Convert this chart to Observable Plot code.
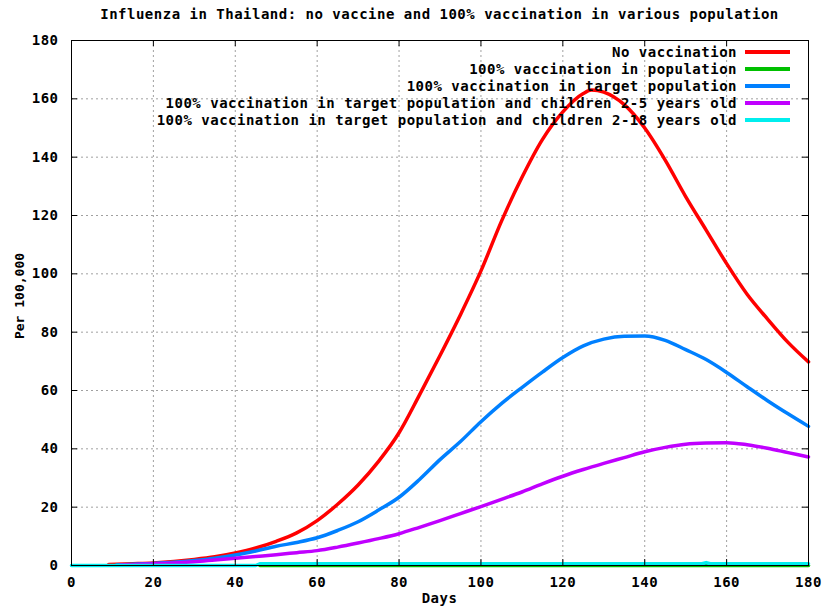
<!DOCTYPE html>
<html>
<head>
<meta charset="utf-8">
<script src="https://cdn.jsdelivr.net/npm/d3@7"></script>
<script src="https://cdn.jsdelivr.net/npm/@observablehq/plot@0.6"></script>
<style>
  body { margin: 0; background: #fff; }
  #wrap { position: relative; width: 827px; height: 612px; font-family: "DejaVu Sans Mono", "Liberation Mono", monospace; font-weight: bold; color: #000; }
  #title { height: 30px; line-height: 28px; padding-left: 71px; padding-right: 19px; text-align: center; font-size: 14px; letter-spacing: 0.5px; box-sizing: border-box; width: 827px; white-space: nowrap; }
  #legend { position: absolute; right: 37px; top: 43px; font-size: 14px; letter-spacing: 0.5px; }
  .row { display: flex; justify-content: flex-end; align-items: center; height: 17px; white-space: nowrap; }
  .swatch { display: inline-block; width: 45px; height: 4px; margin-left: 8px; }
  #xlabel { position: absolute; left: 71px; width: 737px; top: 590px; text-align: center; font-size: 14px; letter-spacing: 0.5px; }
  #ylabel { position: absolute; left: 19px; top: 296px; font-size: 13px; white-space: nowrap; transform: translate(-50%, -50%) rotate(-90deg); }
  svg { display: block; }
</style>
</head>
<body>
<div id="wrap">
  <div id="title">Influenza in Thailand: no vaccine and 100% vaccination in various population</div>
  <div id="chart"></div>
  <div id="legend"></div>
  <div id="xlabel">Days</div>
  <div id="ylabel">Per 100,000</div>
</div>
<script>
// ---- data ----
const xTicks = [0, 20, 40, 60, 80, 100, 120, 140, 160, 180];
const yTicks = [0, 20, 40, 60, 80, 100, 120, 140, 160, 180];

const seriesNames = [
  "No vaccination",
  "100% vaccination in population",
  "100% vaccination in target population",
  "100% vaccination in target population and children 2-5 years old",
  "100% vaccination in target population and children 2-18 years old"
];
const seriesColors = ["#ff0000", "#00c000", "#0080ff", "#c000ff", "#00eeee"];

const noVacDays = [9, 15, 20, 25, 30, 35, 40, 45, 50, 55, 60, 65, 70, 75, 80, 85, 90, 95, 100, 105, 110, 115, 120, 125, 127, 130, 135, 140, 145, 150, 155, 160, 165, 170, 175, 180];
const noVacVals = [0.3, 0.6, 0.9, 1.4, 2.1, 3.0, 4.3, 6.0, 8.3, 11.2, 15.4, 21, 27.6, 35.7, 45.5, 58.5, 72, 86, 101, 118, 133, 146, 155.5, 161.8, 163, 162.3, 158, 150, 139, 126.5, 115, 103.5, 93, 84.5, 76.5, 69.8];

const popDays = [46, 180];
const popVals = [0, 0];

const targetDays = [11, 15, 20, 25, 30, 35, 40, 45, 50, 55, 60, 65, 70, 75, 80, 85, 90, 95, 100, 105, 110, 115, 120, 125, 130, 135, 140, 145, 150, 155, 160, 165, 170, 175, 180];
const targetVals = [0.2, 0.4, 0.7, 1.1, 1.7, 2.5, 3.6, 5.0, 6.6, 7.9, 9.5, 12.0, 15.0, 19.0, 23.4, 29.5, 36.3, 42.5, 49.3, 55.5, 61.0, 66.3, 71.3, 75.3, 77.6, 78.6, 78.7, 77.2, 74.0, 70.6, 66.2, 61.3, 56.5, 52.0, 47.7];

const child5Days = [12, 15, 20, 25, 30, 35, 40, 45, 50, 55, 60, 65, 70, 75, 80, 85, 90, 95, 100, 105, 110, 115, 120, 125, 130, 135, 140, 145, 150, 155, 160, 165, 170, 175, 180];
const child5Vals = [0.2, 0.3, 0.6, 0.9, 1.3, 1.9, 2.5, 3.1, 3.7, 4.4, 5.1, 6.3, 7.7, 9.2, 10.9, 13.1, 15.4, 17.8, 20.2, 22.7, 25.2, 28.0, 30.6, 32.9, 35.0, 37.0, 39.0, 40.5, 41.6, 42.0, 42.1, 41.4, 40.2, 38.7, 37.2];

const child18Days = [0, 45, 46, 154, 155, 156, 180];
const child18Vals = [0, 0, 0.6, 0.6, 1.0, 0.6, 0.6];

// ---- build table ----
const seriesDays = [noVacDays, popDays, targetDays, child5Days, child18Days];
const seriesVals = [noVacVals, popVals, targetVals, child5Vals, child18Vals];
const table = [];
seriesNames.forEach((name, i) => {
  seriesDays[i].forEach((d, j) => table.push({series: name, day: d, value: seriesVals[i][j]}));
});

const gridStyle = {stroke: "#a0a0a0", strokeOpacity: 1, strokeWidth: 1, strokeDasharray: "2,3"};
const frameH = 582 - 10 - 47;
const frameW = 827 - 71 - 19;

const lineMarks = seriesNames.map((name, i) =>
  Plot.line(table.filter(r => r.series === name), {
    x: "day", y: "value", stroke: seriesColors[i], strokeWidth: 3.5, strokeLinejoin: "round",
    curve: i === 4 ? "linear" : "monotone-x"
  })
);

const chart = Plot.plot({
  width: 827,
  height: 582,
  marginTop: 10,
  marginBottom: 47,
  marginLeft: 71,
  marginRight: 19,
  x: {domain: [0, 180]},
  y: {domain: [0, 180]},
  style: {fontFamily: '"DejaVu Sans Mono", monospace', fontSize: "14px", fontWeight: "bold", color: "#000", background: "#fff", letterSpacing: "0.5px"},
  marks: [
    Plot.gridX(xTicks.slice(1, -1), gridStyle),
    Plot.gridY(yTicks.slice(1, -1), gridStyle),
    ...lineMarks,
    Plot.frame({stroke: "#000", strokeWidth: 1}),
    Plot.tickX(xTicks, {x: d => d, stroke: "#000", insetTop: frameH - 6}),
    Plot.tickX(xTicks, {x: d => d, stroke: "#000", insetBottom: frameH - 6}),
    Plot.tickY(yTicks, {y: d => d, stroke: "#000", insetRight: frameW - 6}),
    Plot.tickY(yTicks, {y: d => d, stroke: "#000", insetLeft: frameW - 6}),
    Plot.axisX(xTicks, {anchor: "bottom", tickSize: 0, tickPadding: 12, label: null, tickFormat: d => String(d)}),
    Plot.axisY(yTicks, {anchor: "left", tickSize: 0, tickPadding: 13, label: null, tickFormat: d => String(d)})
  ]
});
document.getElementById("chart").appendChild(chart);

// ---- legend ----
const legend = document.getElementById("legend");
seriesNames.forEach((name, i) => {
  const row = document.createElement("div");
  row.className = "row";
  const t = document.createElement("span");
  t.textContent = name;
  const s = document.createElement("span");
  s.className = "swatch";
  s.style.background = seriesColors[i];
  row.appendChild(t);
  row.appendChild(s);
  legend.appendChild(row);
});
</script>
</body>
</html>
